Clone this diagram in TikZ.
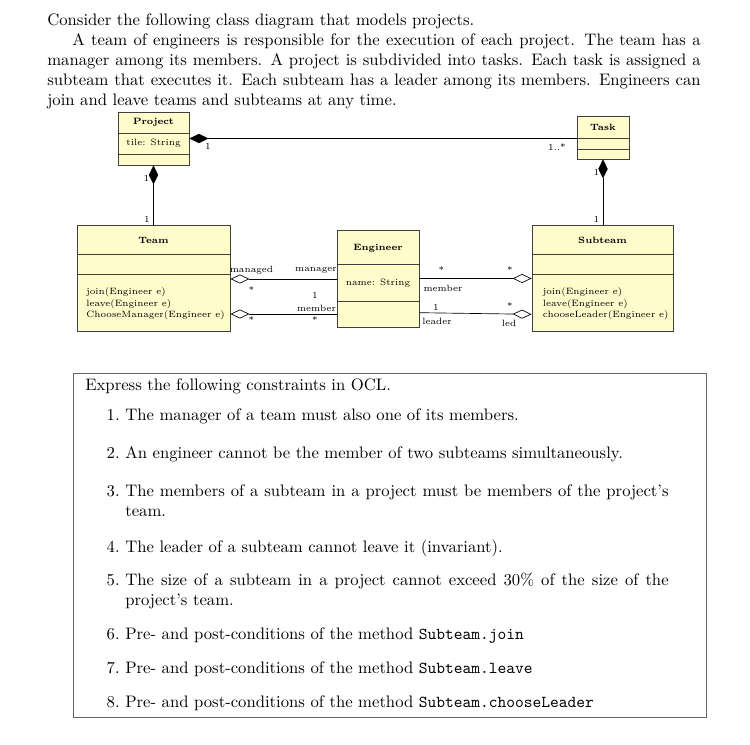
\documentclass[tikz,border=0pt]{standalone}
\usetikzlibrary{arrows.meta,fit}

\tikzset{
  classbox/.style={draw=black!75, fill=yellow!20, line width=0.5pt, inner sep=0pt},
  classname/.style={font=\fontsize{5.5}{6.8}\selectfont\bfseries, inner sep=0pt},
  classtext/.style={font=\fontsize{5.5}{6.9}\selectfont, inner sep=0pt, align=left},
  mult/.style={font=\fontsize{5.5}{6.8}\selectfont, inner sep=0pt},
  compo/.style={line width=0.4pt, {Diamond[length=11.4pt,width=5.6pt]}-},
  aggr/.style={line width=0.4pt, {Diamond[open,length=11.4pt,width=5.4pt]}-},
}

\begin{document}
\begin{tikzpicture}[x=0.6pt, y=-0.6pt]
\useasboundingbox (0,0) rectangle (750,745);

% statement
\node[anchor=north west, inner sep=0pt, text width=392pt, align=justify] (intro) at (47,13)
  {Consider the following class diagram that models projects.\\
  \hspace*{15pt}A team of engineers is responsible for the execution of each project. The team has a
  manager among its members. A project is subdivided into tasks. Each task is assigned a
  subteam that executes it. Each subteam has a leader among its members. Engineers can
  join and leave teams and subteams at any time.};

% classes
\node[classbox, fit={(118,112) (189,165)}] (project) {};
\draw[black!75] (project.west |- 0,133) -- (project.east |- 0,133);
\draw[black!75] (project.west |- 0,154) -- (project.east |- 0,154);
\node[classname] (projectname) at (153.5,122.5) {Project};
\node[classtext] (projectattr) at (153.5,143.5) {tile: String};

\node[classbox, fit={(577,116) (629,159)}] (task) {};
\draw[black!75] (task.west |- 0,138) -- (task.east |- 0,138);
\draw[black!75] (task.west |- 0,149) -- (task.east |- 0,149);
\node[classname] (taskname) at (603,127) {Task};

\node[classbox, fit={(77,225) (230,331)}] (team) {};
\draw[black!75] (team.west |- 0,254.5) -- (team.east |- 0,254.5);
\draw[black!75] (team.west |- 0,274.5) -- (team.east |- 0,274.5);
\node[classname] (teamname) at (153.5,240.5) {Team};
\node[classtext, anchor=west] (teamops) at (86,304)
  {join(Engineer e)\\leave(Engineer e)\\ChooseManager(Engineer e)};

\node[classbox, fit={(337,230) (419,327)}] (engineer) {};
\draw[black!75] (engineer.west |- 0,264.5) -- (engineer.east |- 0,264.5);
\draw[black!75] (engineer.west |- 0,301) -- (engineer.east |- 0,301);
\node[classname] (engineername) at (378,248) {Engineer};
\node[classtext] (engineerattr) at (378,283) {name: String};

\node[classbox, fit={(532,225) (673,331)}] (subteam) {};
\draw[black!75] (subteam.west |- 0,254.5) -- (subteam.east |- 0,254.5);
\draw[black!75] (subteam.west |- 0,274.5) -- (subteam.east |- 0,274.5);
\node[classname] (subteamname) at (602.5,240.5) {Subteam};
\node[classtext, anchor=west] (subteamops) at (542.5,304)
  {join(Engineer e)\\leave(Engineer e)\\chooseLeader(Engineer e)};

% associations
\draw[compo] (project.east) -- (task.west |- project.east);
\draw[compo] (project.south) -- (team.north);
\draw[compo] (task.south) -- (task.south |- subteam.north);
\draw[aggr] (team.east |- 0,279) -- (engineer.west |- 0,279);
\draw[aggr] (team.east |- 0,314) -- (engineer.west |- 0,314);
\draw[aggr] (subteam.west |- 0,278.5) -- (engineer.east |- 0,278.5);
\draw[aggr] (subteam.west |- 0,314.3) -- (engineer.east |- 0,312.7);

% multiplicities and roles
\node[mult] (m1) at (208,146) {1};
\node[mult] (m2) at (557,147.5) {1..*};
\node[mult] (m3) at (146.5,178) {1};
\node[mult] (m4) at (147,219) {1};
\node[mult] (m5) at (596.5,172.5) {1};
\node[mult] (m6) at (596.5,219) {1};
\node[mult] (managed) at (251.5,270) {managed};
\node[mult] (manager) at (316,270) {manager};
\node[mult] (m7) at (251.5,290) {*};
\node[mult] (m8) at (315,295.5) {1};
\node[mult] (member1) at (316.5,308) {member};
\node[mult] (m9) at (251.5,320) {*};
\node[mult] (m10) at (315,320) {*};
\node[mult] (m11) at (441.5,270) {*};
\node[mult] (m12) at (510,270) {*};
\node[mult] (member2) at (443,288.5) {member};
\node[mult] (m13) at (436,307) {1};
\node[mult] (m14) at (510,306) {*};
\node[mult] (leader) at (437,321.5) {leader};
\node[mult] (led) at (509,323) {led};

% constraints
\node[draw=black!60, line width=0.6pt, inner sep=0pt, fit={(73.5,374) (706,717)}] (ocl) {};
\node[anchor=base west, inner sep=0pt] (express) at (85,391) {Express the following constraints in OCL.};
\foreach \n/\yy/\txt in {
  1/420.5/{The manager of a team must also one of its members.},
  2/458.5/{An engineer cannot be the member of two subteams simultaneously.},
  3/496/{The members of a subteam in a project must be members of the project's team.},
  4/552/{The leader of a subteam cannot leave it (invariant).},
  5/585/{The size of a subteam in a project cannot exceed 30\% of the size of the project's team.},
  6/639/{Pre- and post-conditions of the method \texttt{Subteam.join}},
  7/673/{Pre- and post-conditions of the method \texttt{Subteam.leave}},
  8/707/{Pre- and post-conditions of the method \texttt{Subteam.chooseLeader}}}{
  \node[anchor=base east, inner sep=0pt] (num\n) at (120,\yy) {\n.};
  \node[anchor=base west, inner sep=0pt, text width=326pt, align=justify] (item\n) at (125,\yy) {\txt};
}
\end{tikzpicture}
\end{document}
